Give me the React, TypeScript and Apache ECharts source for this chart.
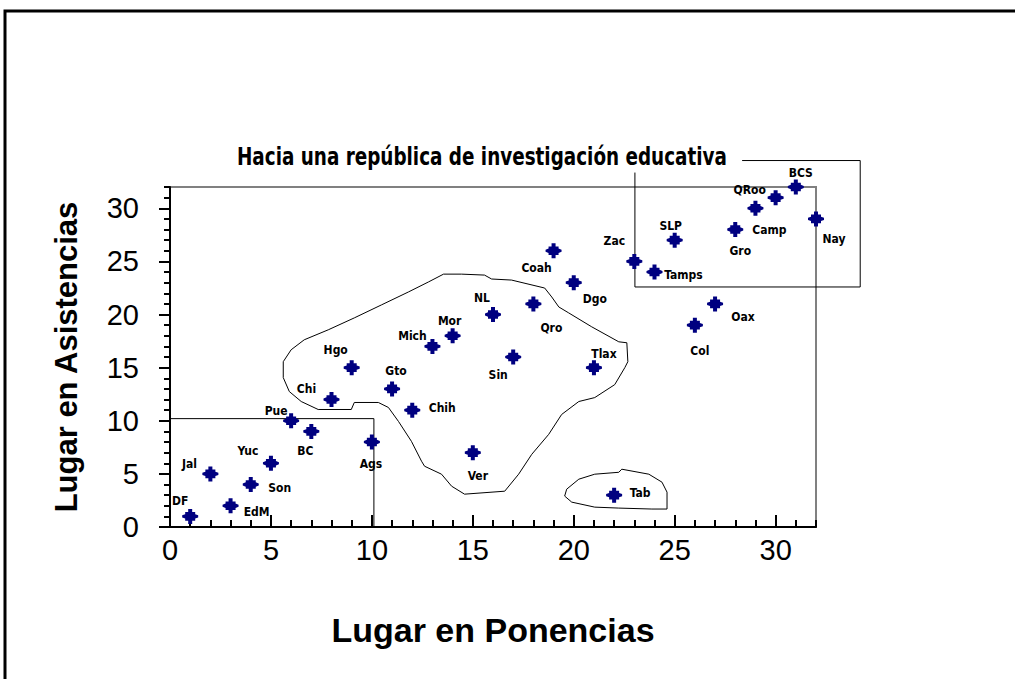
import React, { useEffect, useRef } from 'react';
import * as echarts from 'echarts';

const states = ['DF', 'EdM', 'Jal', 'Son', 'Yuc', 'Pue', 'BC', 'Ags', 'Chi', 'Hgo', 'Gto', 'Chih', 'Mich', 'Mor', 'NL', 'Sin', 'Ver', 'Qro', 'Coah', 'Dgo', 'Tlax', 'Tab', 'Zac', 'Tamps', 'SLP', 'Col', 'Oax', 'Gro', 'Camp', 'QRoo', 'BCS', 'Nay'];
const ponencias = [1, 3, 2, 4, 5, 6, 7, 10, 8, 9, 11, 12, 13, 14, 16, 17, 15, 18, 19, 20, 21, 22, 23, 24, 25, 26, 27, 28, 29, 30, 31, 32];
const asistencias = [1, 2, 5, 4, 6, 10, 9, 8, 12, 15, 13, 11, 17, 18, 20, 16, 7, 21, 26, 23, 15, 3, 25, 24, 27, 19, 21, 28, 30, 31, 32, 29];

// label placement (pixel offsets from the marker)
const labelOffsets = [
  [-10, -15], [26, 6], [-21, -10], [29, 3], [-23, -12], [-15, -10], [-6, 20], [-1, 22],
  [-25, -11], [-16, -18], [4, -18], [30, -2], [-20, -10], [-3, -15], [-11, -17], [-15, 18],
  [5, 23], [18, 24], [-17, 17], [21, 16], [10, -14], [26, -2], [-20, -20], [29, 3],
  [-4, -14], [5, 26], [28, 13], [5, 21], [14, 22], [-26, -8], [5, -14], [18, 20],
];

const xTicks = [0, 5, 10, 15, 20, 25, 30];
const yTicks = [0, 5, 10, 15, 20, 25, 30];

// outline of the central group
const blobX = [13.55, 14.44, 15.58, 15.93, 16.92, 18.56, 18.91, 19.26, 19.75, 20.89, 22.23, 22.63, 22.68, 22.53, 22.03, 21.04, 20.25, 19.4, 18.76, 17.92, 17.27, 16.58, 14.59, 13.95, 13.45, 12.61, 12.46, 11.96, 11.32, 10.82, 10.32, 9.13, 8.98, 7.34, 6.5, 5.91, 5.61, 5.61, 6.0, 6.65, 7.84, 9.13, 10.47, 11.81, 12.8, 13.55];
const blobY = [23.8, 23.8, 23.71, 23.34, 23.24, 22.49, 21.65, 20.71, 20.15, 18.84, 17.43, 17.34, 15.56, 15.0, 13.4, 12.18, 11.81, 10.59, 8.72, 6.84, 4.97, 3.37, 3.09, 3.84, 4.97, 5.72, 6.19, 8.06, 9.93, 11.25, 11.72, 11.72, 11.06, 11.06, 11.81, 12.75, 14.06, 15.56, 16.68, 17.62, 18.56, 19.68, 20.9, 22.12, 23.06, 23.8];

// outline around Tab
const tabX = [22.38, 23.72, 24.37, 24.62, 24.62, 23.87, 22.23, 21.04, 19.9, 19.55, 19.65, 20.25, 21.04, 22.23, 22.38];
const tabY = [5.44, 4.97, 4.22, 3.28, 1.69, 1.69, 1.78, 1.87, 2.34, 2.91, 3.56, 4.5, 4.97, 5.15, 5.44];

// lower-left group box
const boxX = [0, 10.1, 10.1];
const boxY = [10.2, 10.2, 0];

// bracket around the top group (extends past the axes)
const bracketX = [28.34, 34.19, 34.19, 23.03, 23.03];
const bracketY = [34.49, 34.49, 22.59, 22.59, 33.36];

const titleText = 'Hacia una república de investigación educativa';

const zip = (xs: number[], ys: number[]) => xs.map((x, i) => [x, ys[i]]);

const starPath = 'path://M-2,-7 L2,-7 L2,-4 L5,-4 L5,-2 L8,-1 L8,1 L5,2 L5,4 L2,4 L2,7 L-2,7 L-2,4 L-5,4 L-5,2 L-8,1 L-8,-1 L-5,-2 L-5,-4 L-2,-4 Z';

export default function App() {
  const ref = useRef<HTMLDivElement>(null);
  useEffect(() => {
    const chart = echarts.init(ref.current!, null, { renderer: 'svg' });
    const tickFont = { fontFamily: 'Liberation Sans, Arial, sans-serif', fontSize: 29, color: '#000' };
    const nameFont = { fontFamily: 'Liberation Sans, Arial, sans-serif', fontWeight: 'bold', color: '#000' };
    const outline = (name: string, data: number[][]) => ({
      type: 'line', name, data, symbol: 'none', silent: true, z: 1,
      lineStyle: { color: '#000', width: 1 }, xAxisIndex: 0, yAxisIndex: 0,
    });
    chart.setOption({
      animation: false,
      backgroundColor: '#fff',
      grid: { left: 170, top: 187, width: 646, height: 340, show: true, borderColor: '#808080', borderWidth: 2 },
      xAxis: [
        {
          type: 'value', min: 0, max: 32, interval: 5, position: 'bottom',
          name: 'Lugar en Ponencias', nameLocation: 'middle', nameGap: 86,
          nameTextStyle: { ...nameFont, fontSize: 34 },
          axisLine: { show: true, lineStyle: { color: '#000', width: 2 } },
          axisTick: { show: true, inside: true, length: 12, customValues: xTicks, lineStyle: { color: '#000', width: 2 } },
          axisLabel: { ...tickFont, margin: 8, customValues: xTicks },
          splitLine: { show: false },
        },
        {
          type: 'value', min: 0, max: 32, interval: 1, position: 'bottom',
          axisLine: { show: false },
          axisTick: { show: true, inside: true, length: 7, lineStyle: { color: '#000', width: 2 } },
          axisLabel: { show: false },
          splitLine: { show: false },
        },
      ],
      yAxis: [
        {
          type: 'value', min: 0, max: 32, interval: 5, position: 'left',
          name: 'Lugar en Asistencias', nameLocation: 'middle', nameGap: 88,
          nameTextStyle: { ...nameFont, fontSize: 31 },
          axisLine: { show: true, lineStyle: { color: '#000', width: 2 } },
          axisTick: { show: true, inside: false, length: 11, customValues: yTicks, lineStyle: { color: '#000', width: 2 } },
          axisLabel: { ...tickFont, margin: 31, customValues: yTicks },
          splitLine: { show: false },
        },
        {
          type: 'value', min: 0, max: 32, interval: 1, position: 'left',
          axisLine: { show: false },
          axisTick: { show: true, inside: false, length: 6, lineStyle: { color: '#000', width: 2 } },
          axisLabel: { show: false },
          splitLine: { show: false },
        },
      ],
      series: [
        outline('grupo central', zip(blobX, blobY)),
        outline('Tab', zip(tabX, tabY)),
        outline('grupo inferior', zip(boxX, boxY)),
        {
          type: 'scatter', name: 'Estados', xAxisIndex: 0, yAxisIndex: 0, z: 3, clip: false,
          symbol: starPath, symbolSize: [16, 15],
          itemStyle: { color: '#000080', opacity: 1 },
          data: states.map((s, i) => ({
            name: s,
            value: [ponencias[i], asistencias[i]],
            label: { offset: labelOffsets[i] },
          })),
          label: {
            show: true, position: 'inside', formatter: '{b}', color: '#000', fontWeight: 'bold',
            fontFamily: 'Liberation Sans Narrow, DejaVu Sans Condensed, Arial, sans-serif', fontSize: 12,
          },
        },
      ],
      graphic: [
        { type: 'rect', id: 'frame', silent: true, shape: { x: 5, y: 11, width: 1100, height: 1000 }, style: { fill: 'none', stroke: '#000', lineWidth: 3 } },
        {
          type: 'text', id: 'title', x: 237, y: 157, scaleX: 0.766,
          style: { text: titleText, fill: '#000', font: 'bold 24px DejaVu Sans, sans-serif', textAlign: 'left', textVerticalAlign: 'middle' },
        },
      ],
    });
    const bracketPts = zip(bracketX, bracketY).map((p) => chart.convertToPixel({ gridIndex: 0 }, p) as number[]);
    chart.setOption({
      graphic: [
        { type: 'polyline', id: 'bracket', silent: true, z: 1, shape: { points: bracketPts }, style: { fill: 'none', stroke: '#000', lineWidth: 1 } },
      ],
    });
    return () => chart.dispose();
  }, []);
  return <div ref={ref} style={{ position: 'fixed', left: 0, top: 0, width: 1015, height: 679, background: '#fff' }} />;
}
